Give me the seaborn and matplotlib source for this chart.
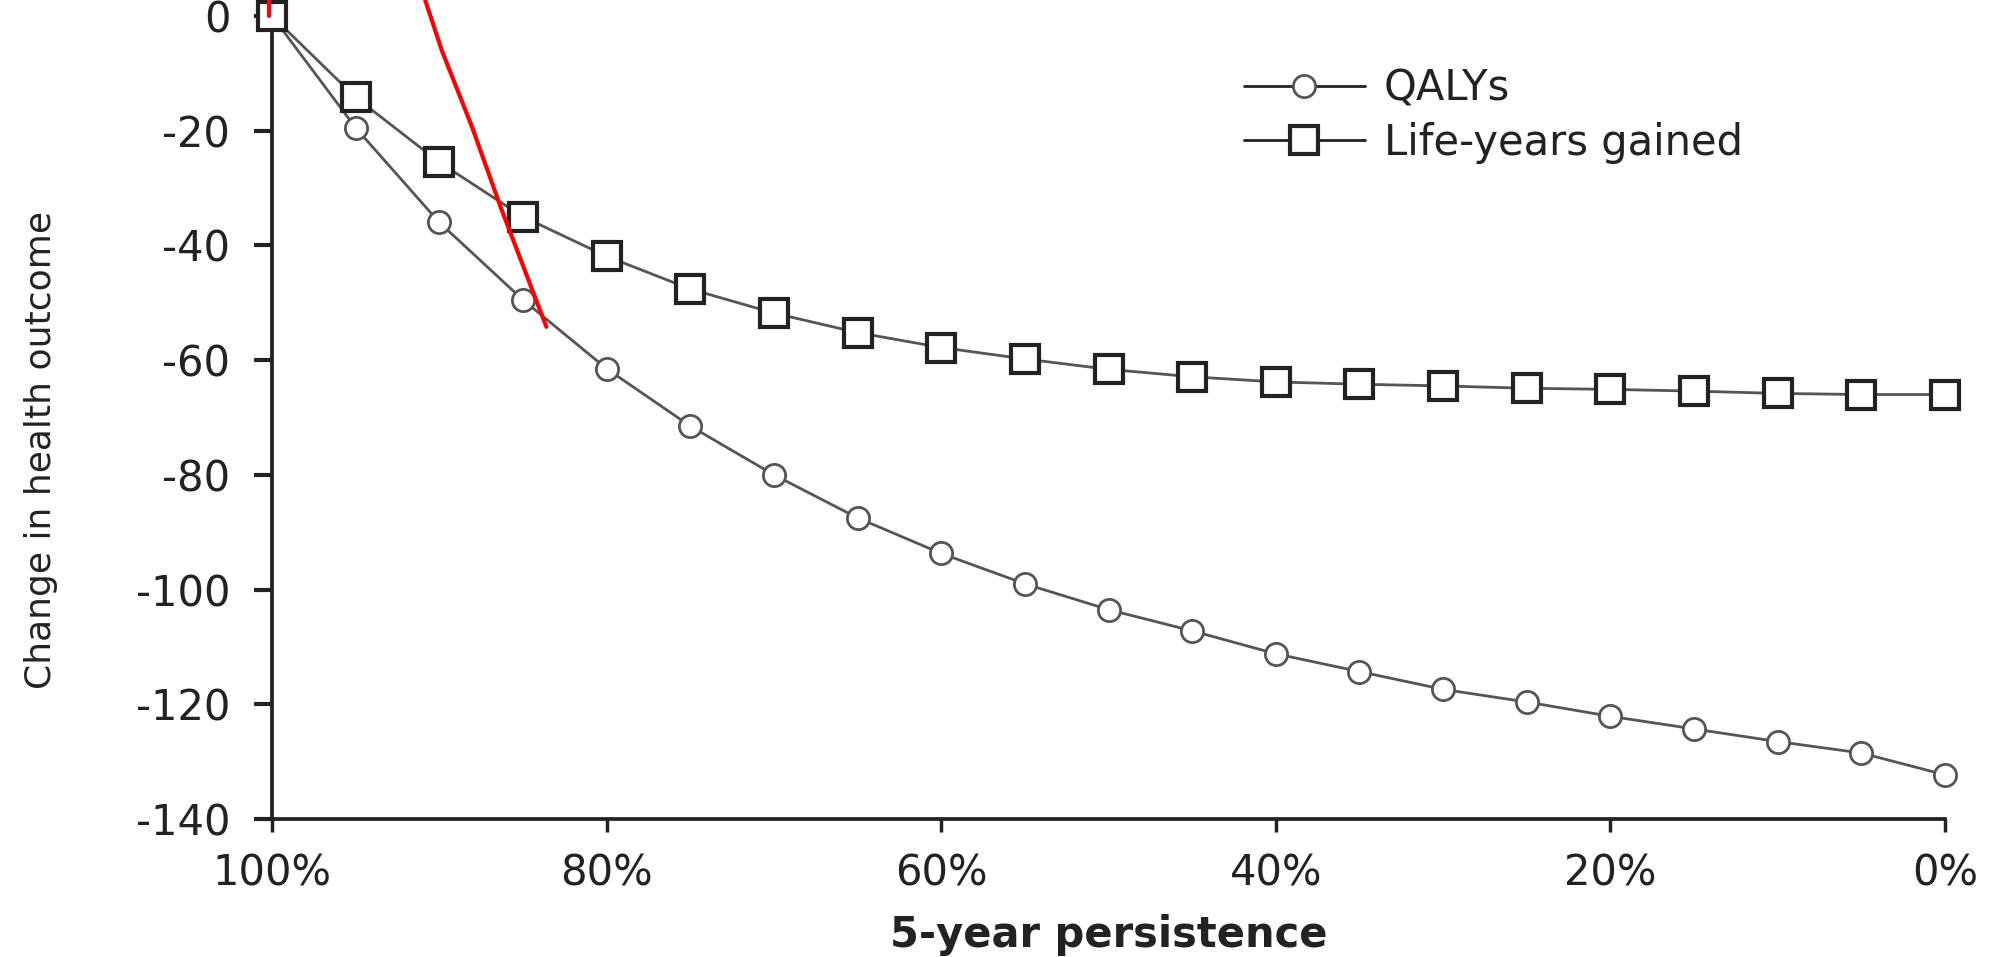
import numpy as np
import pandas as pd
import seaborn as sns
import matplotlib
matplotlib.use("Agg")
import matplotlib.pyplot as plt

persistence = [100, 95, 90, 85, 80, 75, 70, 65, 60, 55, 50, 45, 40, 35, 30, 25, 20, 15, 10, 5, 0]
qalys = [0, -19.5, -36, -49.5, -61.5, -71.5, -80, -87.5, -93.7, -99, -103.5, -107.2,
         -111.2, -114.3, -117.4, -119.6, -122.1, -124.3, -126.5, -128.5, -132.3]
life_years = [0, -14.2, -25.5, -35, -41.9, -47.6, -51.8, -55.2, -57.8, -59.8, -61.6, -62.9,
              -63.8, -64.2, -64.5, -64.9, -65.1, -65.4, -65.8, -66, -66]

# red hand-drawn mark over the chart
red_x = [90.85, 89.84, 88.05, 86.3, 83.6]
red_y = [2.8, -6.1, -19.3, -33.6, -54.2]
red_tick_x = [100.2, 100.2]
red_tick_y = [2.8, 0]

x_ticks = [100, 80, 60, 40, 20, 0]
x_ticklabels = ["100%", "80%", "60%", "40%", "20%", "0%"]
y_ticks = [0, -20, -40, -60, -80, -100, -120, -140]

df = pd.DataFrame({"persistence": persistence, "QALYs": qalys, "Life-years gained": life_years})

sns.set_style("ticks")
plt.rcParams["font.family"] = ["DejaVu Sans"]

fig = plt.figure(figsize=(19.9, 9.57), dpi=100)
ax = fig.add_axes([0.1367, 0.1442, 0.8407, 0.8391])

sns.lineplot(data=df, x="persistence", y="QALYs", ax=ax, color="#555555", linewidth=2,
             marker="o", markersize=16, markerfacecolor="white", markeredgecolor="#555555",
             markeredgewidth=2, label="QALYs", clip_on=False, zorder=3)
sns.lineplot(data=df, x="persistence", y="Life-years gained", ax=ax, color="#555555", linewidth=2,
             marker="s", markersize=20, markerfacecolor="white", markeredgecolor="#222222",
             markeredgewidth=3, label="Life-years gained", clip_on=False, zorder=4)

ax.plot(red_x, red_y, color="red", linewidth=3, clip_on=False, zorder=5)
ax.plot(red_tick_x, red_tick_y, color="red", linewidth=3, clip_on=False, zorder=5)

ax.set_xlim(100, 0)
ax.set_ylim(-140, 0)
ax.set_xticks(x_ticks)
ax.set_xticklabels(x_ticklabels)
ax.set_yticks(y_ticks)
ax.set_yticklabels([str(v) for v in y_ticks])

sns.despine(ax=ax)
for s in ["left", "bottom"]:
    ax.spines[s].set_linewidth(2.7)
    ax.spines[s].set_color("#222222")
ax.tick_params(axis="y", length=13, width=3, color="#222222", labelsize=30, pad=17,
               labelcolor="#222222")
ax.tick_params(axis="x", length=9, width=2.5, color="#222222", labelsize=30, pad=15,
               labelcolor="#222222")

ax.set_xlabel("5-year persistence", fontsize=30, fontweight="bold", color="#222222")
ax.xaxis.set_label_coords(0.5, -0.118)
ax.set_ylabel("Change in health outcome", fontsize=26, color="#222222")
ax.yaxis.set_label_coords(-0.128, 0.46)

leg = ax.legend(loc="upper left", bbox_to_anchor=(0.581, 0.936), frameon=False, fontsize=30,
                handlelength=2.9, handletextpad=0.45, labelspacing=0.3,
                borderaxespad=0, borderpad=0)
for h in leg.get_lines():
    h.set_color("#222222")
for t in leg.get_texts():
    t.set_color("#222222")

fig.savefig("out.png", dpi=100, facecolor="white")
